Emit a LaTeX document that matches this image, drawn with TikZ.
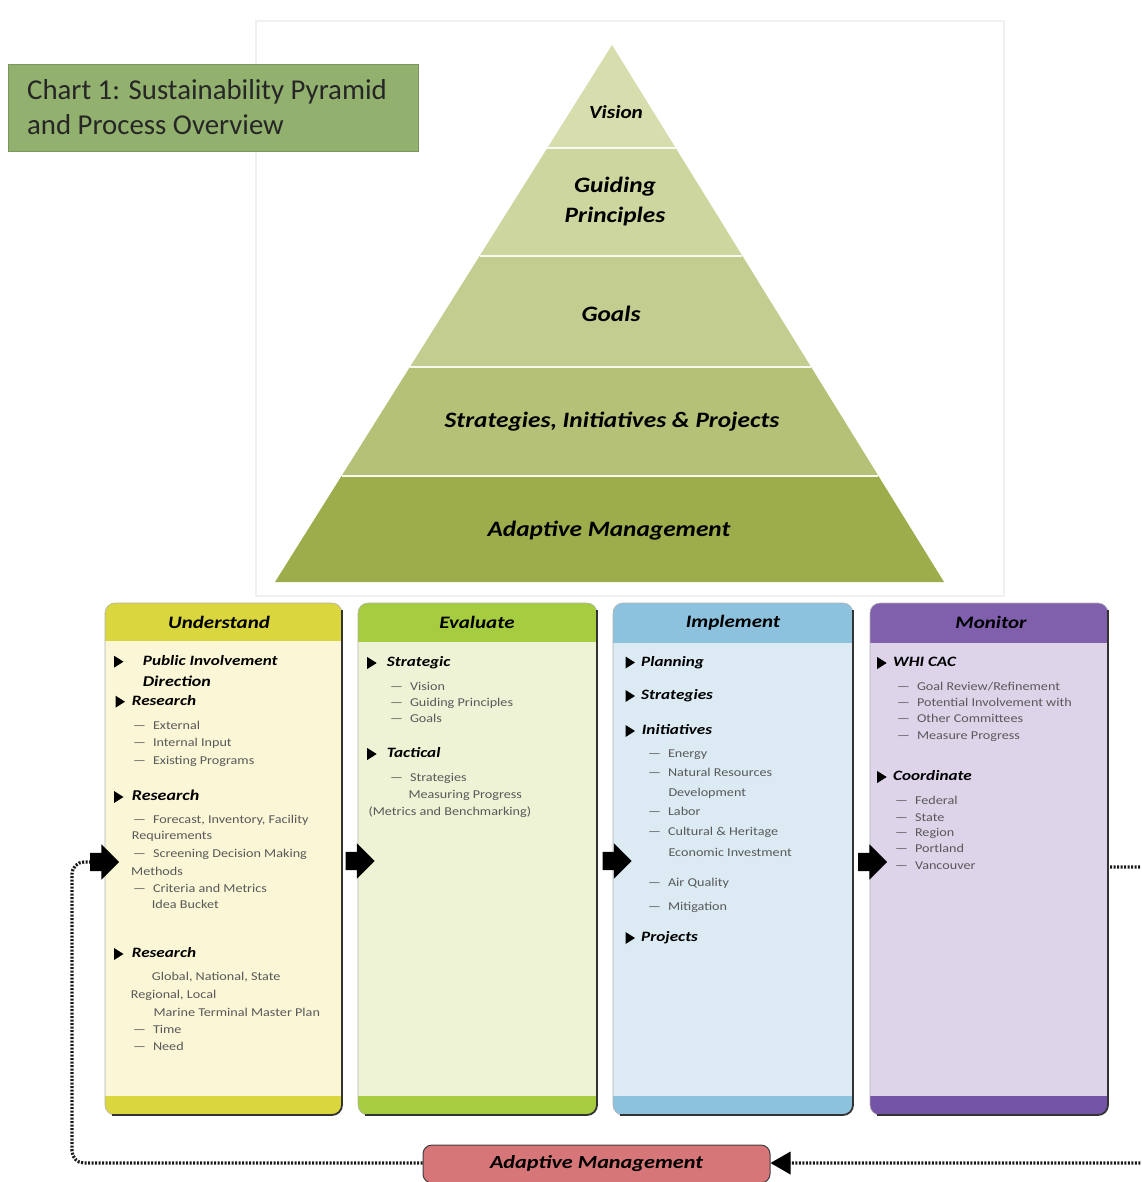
\documentclass[tikz,border=0pt]{standalone}
\usepackage{fontspec}
\setmainfont{Carlito}
\newfontfamily\itmfont[FakeStretch=1.18]{Carlito}
\newfontfamily\hdfont[FakeStretch=1.2]{Carlito}
\newfontfamily\pyfont[FakeStretch=1.15]{Carlito}
\usetikzlibrary{calc,shapes.arrows,arrows.meta}
\definecolor{titleG}{RGB}{146,176,110}
\definecolor{pyrA}{RGB}{216,221,174}
\definecolor{pyrB}{RGB}{206,214,160}
\definecolor{pyrC}{RGB}{196,205,144}
\definecolor{pyrD}{RGB}{180,193,118}
\definecolor{pyrE}{RGB}{157,173,76}
\definecolor{undH}{RGB}{218,214,62}
\definecolor{undB}{RGB}{250,246,214}
\definecolor{evaH}{RGB}{166,204,64}
\definecolor{evaB}{RGB}{238,243,214}
\definecolor{impH}{RGB}{140,194,222}
\definecolor{impB}{RGB}{219,234,243}
\definecolor{monH}{RGB}{128,96,172}
\definecolor{monB}{RGB}{221,212,234}
\definecolor{monF}{RGB}{116,84,166}
\definecolor{amR}{RGB}{214,118,120}
\newcommand\bul[2]{\fill (#1-4.5,#2-6) -- (#1+5,#2) -- (#1-4.5,#2+6) -- cycle;}
\newcommand\dsh{\textemdash\hspace{7pt}}
\begin{document}
\begin{tikzpicture}[x=1pt,y=-1pt,
  itm/.style={anchor=west, inner sep=0, text height=8.5pt, text depth=2.5pt,
    font=\itmfont\fontsize{12}{14}\selectfont, text=black!65},
  hd/.style={anchor=west, inner sep=0, text height=10pt, text depth=3pt,
    font=\hdfont\bfseries\itshape\fontsize{14.3}{16}\selectfont},
  coltitle/.style={inner sep=0, font=\hdfont\bfseries\itshape\fontsize{17.5}{20}\selectfont},
  pyrtext/.style={inner sep=0, align=center, font=\pyfont\bfseries\itshape\fontsize{22}{30}\selectfont},
  colout/.style={draw=black!30, line width=0.6pt, rounded corners=10pt, inner sep=0, minimum height=512pt},
  shade/.style={draw=black!80, line width=1.8pt, rounded corners=10pt},
  barrow/.style={single arrow, fill=black, inner sep=0, minimum height=29pt,
    single arrow head extend=8.5pt},
  fbloop/.style={line width=3.2pt, dash pattern=on 2pt off 1.5pt, black!90}
]
\useasboundingbox (0,0) rectangle (1141,1182);
\clip (0,0) rectangle (1141,1182);
\fill[white] (0,0) rectangle (1141,1182);

% faint frame round pyramid
\draw[black!6, line width=1.2pt] (256,21) rectangle (1004,596);

% title
\node[fill=titleG, draw=titleG!85!black, line width=0.5pt, minimum width=410pt, minimum height=87pt, inner sep=0] (titlebox) at (213,107.5) {};
\node[anchor=west, inner sep=0, align=left, font=\fontsize{28.8}{35}\selectfont, text=black!85] (title) at (27,107.5)
  {Chart 1: Sustainability Pyramid\\and Process Overview};

% pyramid
\coordinate (apex) at (612,45);
\coordinate (bl) at (275,582);
\coordinate (br) at (944,582);
\fill[pyrA] (apex) -- ($(apex)!0.1918!(br)$) -- ($(apex)!0.1918!(bl)$) -- cycle;
\fill[pyrB] ($(apex)!0.1918!(bl)$) -- ($(apex)!0.1918!(br)$) -- ($(apex)!0.3929!(br)$) -- ($(apex)!0.3929!(bl)$) -- cycle;
\fill[pyrC] ($(apex)!0.3929!(bl)$) -- ($(apex)!0.3929!(br)$) -- ($(apex)!0.5996!(br)$) -- ($(apex)!0.5996!(bl)$) -- cycle;
\fill[pyrD] ($(apex)!0.5996!(bl)$) -- ($(apex)!0.5996!(br)$) -- ($(apex)!0.8026!(br)$) -- ($(apex)!0.8026!(bl)$) -- cycle;
\fill[pyrE] ($(apex)!0.8026!(bl)$) -- ($(apex)!0.8026!(br)$) -- (br) -- (bl) -- cycle;
\foreach \t in {0.1918,0.3929,0.5996,0.8026}
  \draw[white!85!pyrB, line width=1.5pt] ($(apex)!\t!(bl)$) -- ($(apex)!\t!(br)$);

\node[pyrtext, font=\pyfont\bfseries\itshape\fontsize{18.5}{22}\selectfont] (pv) at (616,112) {Vision};
\node[pyrtext] (pg) at (615,202) {Guiding\\Principles};
\node[pyrtext] (pgo) at (611,314) {Goals};
\node[pyrtext] (ps) at (612,422) {Strategies, Initiatives \& Projects};
\node[pyrtext] (pa) at (609,531) {Adaptive Management};

% columns
\begin{scope}
\clip[rounded corners=10pt] (105,603) rectangle (342,1115);
\fill[undB] (105,603) rectangle (342,1115);
\fill[undH] (105,603) rectangle (342,641);
\fill[undH] (105,1096) rectangle (342,1115);
\end{scope}
\begin{scope}
\clip[rounded corners=10pt] (358,603) rectangle (597,1115);
\fill[evaB] (358,603) rectangle (597,1115);
\fill[evaH] (358,603) rectangle (597,642);
\fill[evaH] (358,1096) rectangle (597,1115);
\end{scope}
\begin{scope}
\clip[rounded corners=10pt] (613,603) rectangle (853,1115);
\fill[impB] (613,603) rectangle (853,1115);
\fill[impH] (613,603) rectangle (853,643);
\fill[impH] (613,1096) rectangle (853,1115);
\end{scope}
\begin{scope}
\clip[rounded corners=10pt] (870,603) rectangle (1108,1115);
\fill[monB] (870,603) rectangle (1108,1115);
\fill[monH] (870,603) rectangle (1108,643);
\fill[monF] (870,1096) rectangle (1108,1115);
\end{scope}
\node[colout, minimum width=237pt] (und) at (223.5,859) {};
\node[colout, minimum width=239pt] (eva) at (477.5,859) {};
\node[colout, minimum width=240pt] (imp) at (733,859) {};
\node[colout, minimum width=238pt] (mon) at (989,859) {};
\draw[shade] (342,610) -- (342,1115) -- (112,1115);
\draw[shade] (597,610) -- (597,1115) -- (365,1115);
\draw[shade] (853,610) -- (853,1115) -- (620,1115);
\draw[shade] (1108,610) -- (1108,1115) -- (877,1115);

\node[coltitle] (t1) at (219,622.5) {Understand};
\node[coltitle] (t2) at (477,622) {Evaluate};
\node[coltitle] (t3) at (733,622.5) {Implement};
\node[coltitle] (t4) at (991,622) {Monitor};

% Understand content
\bul{118.5}{661.7}
\node[hd] (u1) at (142.7,661.7) {Public Involvement};
\node[hd, font=\hdfont\bfseries\itshape\fontsize{15}{17}\selectfont] (u2) at (142.7,683.3) {Direction};
\bul{120}{701.7}
\node[hd] (u3) at (131.7,701.7) {Research};
\node[itm] (u4) at (133,726) {\dsh External};
\node[itm] (u5) at (133,743) {\dsh Internal Input};
\node[itm] (u6) at (133,761) {\dsh Existing Programs};
\bul{118.5}{797}
\node[hd, font=\hdfont\bfseries\itshape\fontsize{15}{17}\selectfont] (u7) at (131.7,797) {Research};
\node[itm] (u8) at (133,820) {\dsh Forecast, Inventory, Facility};
\node[itm] (u9) at (131.7,836) {Requirements};
\node[itm] (u10) at (133,854) {\dsh Screening Decision Making};
\node[itm] (u11) at (131,872) {Methods};
\node[itm] (u12) at (133,889) {\dsh Criteria and Metrics};
\node[itm] (u13) at (151.7,905) {Idea Bucket};
\bul{118.5}{954}
\node[hd] (u14) at (131.7,954) {Research};
\node[itm] (u15) at (151.7,977) {Global, National, State};
\node[itm] (u16) at (130.7,995) {Regional, Local};
\node[itm] (u17) at (153.3,1013) {Marine Terminal Master Plan};
\node[itm] (u18) at (133,1030) {\dsh Time};
\node[itm] (u19) at (133,1047) {\dsh Need};

% Evaluate content
\bul{371.7}{663}
\node[hd] (e1) at (386.7,663) {Strategic};
\node[itm] (e2) at (390,687) {\dsh Vision};
\node[itm] (e3) at (390,703) {\dsh Guiding Principles};
\node[itm] (e4) at (390,719.5) {\dsh Goals};
\bul{371.7}{754}
\node[hd] (e5) at (386.7,754) {Tactical};
\node[itm] (e6) at (390,778) {\dsh Strategies};
\node[itm] (e7) at (408.3,795) {Measuring Progress};
\node[itm] (e8) at (368.3,812) {(Metrics and Benchmarking)};

% Implement content
\bul{630}{662.5}
\node[hd] (i1) at (641,662.5) {Planning};
\bul{630}{696}
\node[hd] (i2) at (641,696) {Strategies};
\bul{630}{731}
\node[hd] (i3) at (641.7,731) {Initiatives};
\node[itm] (i4) at (648,754) {\dsh Energy};
\node[itm] (i5) at (648,773) {\dsh Natural Resources};
\node[itm] (i6) at (668.3,793) {Development};
\node[itm] (i7) at (648,812) {\dsh Labor};
\node[itm] (i8) at (648,832) {\dsh Cultural \& Heritage};
\node[itm] (i9) at (668.3,853) {Economic Investment};
\node[itm] (i10) at (648,883) {\dsh Air Quality};
\node[itm] (i11) at (648,907) {\dsh Mitigation};
\bul{630}{938}
\node[hd] (i12) at (641,938) {Projects};

% Monitor content
\bul{881.7}{663}
\node[hd] (m1) at (893,663) {WHI CAC};
\node[itm] (m2) at (897,687) {\dsh Goal Review/Refinement};
\node[itm] (m3) at (897,703) {\dsh Potential Involvement with};
\node[itm] (m4) at (897,719.5) {\dsh Other Committees};
\node[itm] (m5) at (897,736.5) {\dsh Measure Progress};
\bul{881.7}{777}
\node[hd] (m6) at (893,777) {Coordinate};
\node[itm] (m7) at (895,801) {\dsh Federal};
\node[itm] (m8) at (895,818) {\dsh State};
\node[itm] (m9) at (895,833.5) {\dsh Region};
\node[itm] (m10) at (895,849) {\dsh Portland};
\node[itm] (m11) at (895,866.5) {\dsh Vancouver};

% block arrows
\node[barrow] (a1) at (100,862) {\rule{0pt}{18pt}};
\node[barrow] (a2) at (355.5,861) {\rule{0pt}{18pt}};
\node[barrow] (a3) at (612.5,861) {\rule{0pt}{18pt}};
\node[barrow] (a4) at (868,862) {\rule{0pt}{18pt}};

% adaptive management box
\node[fill=amR, draw=black!75, line width=1pt, rounded corners=9pt, minimum width=347pt, minimum height=38pt, inner sep=0] (am) at (596.5,1164) {};
\node[coltitle, font=\hdfont\bfseries\itshape\fontsize{18.5}{20}\selectfont] (amt) at (596.5,1164) {Adaptive Management};

% feedback loop
\coordinate (mout) at (1110,867);
\draw[fbloop, rounded corners=8pt] (mout) -- (1175,867) -- (1175,1163) -- ([xshift=14pt]am.east |- 0,1163);
\draw[fbloop, rounded corners=12pt] (am.west |- 0,1163) -- (72,1163) -- (72,862) -- (a1.tail);
\fill[black] (am.east |- 0,1163) -- ++(20,-11.5) -- ++(0,23) -- cycle;
\end{tikzpicture}
\end{document}
